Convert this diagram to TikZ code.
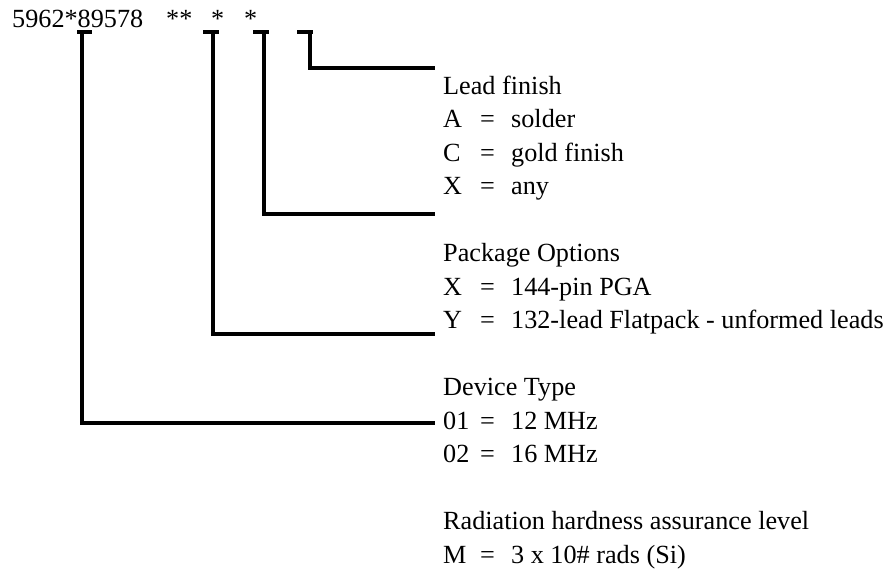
\documentclass[tikz,border=0pt]{standalone}
\usepackage{fontspec}
\setmainfont{Liberation Serif}
\usetikzlibrary{positioning}

\tikzset{
  lbl/.style={anchor=base west, inner sep=0pt, font=\fontsize{26.2}{30}\selectfont},
  lead/.style={line width=3.2pt}
}
\newcommand{\optrow}[2]{\makebox[37pt][l]{#1}\makebox[31pt][l]{=}#2}

\begin{document}
\begin{tikzpicture}[x=1pt,y=-1pt]
  \useasboundingbox (0,0) rectangle (892,573);

  % part number
  \node[lbl] (pn) at (12,27) {5962*89578};
  \node[lbl] (s1) at (166,27) {**};
  \node[lbl] (s2) at (211,27) {*};
  \node[lbl] (s3) at (244,27) {*};

  % option lists
  \node[lbl] (lead)  at (443,94)    {Lead finish};
  \node[lbl] (leadA) at (443,127.5) {\optrow{A}{solder}};
  \node[lbl] (leadC) at (443,161)   {\optrow{C}{gold finish}};
  \node[lbl] (leadX) at (443,194.5) {\optrow{X}{any}};

  \node[lbl] (pkg)  at (443,261.5) {Package Options};
  \node[lbl] (pkgX) at (443,295)   {\optrow{X}{144-pin PGA}};
  \node[lbl] (pkgY) at (443,328.5) {\optrow{Y}{132-lead Flatpack - unformed leads}};

  \node[lbl] (dev)  at (443,395.5) {Device Type};
  \node[lbl] (dev1) at (443,429)   {\optrow{01}{12 MHz}};
  \node[lbl] (dev2) at (443,462.5) {\optrow{02}{16 MHz}};

  \node[lbl] (rad)  at (443,529.5) {Radiation hardness assurance level};
  \node[lbl] (radM) at (443,563)   {\optrow{M}{3 x 10\# rads (Si)}};

  % leaders
  \foreach \n/\x/\l/\r/\y in {tdev/82/77/92/423, tpkg/213/203/219/334,
                               tfin/264/253/269/214, tlead/310/297/313/68} {
    \coordinate (\n) at (\x,32);
    \coordinate (\n-end) at (435,\y);
    \draw[lead] (\l,32) -- (\r,32);
    \draw[lead] (\n) |- (\n-end);
  }
\end{tikzpicture}
\end{document}
